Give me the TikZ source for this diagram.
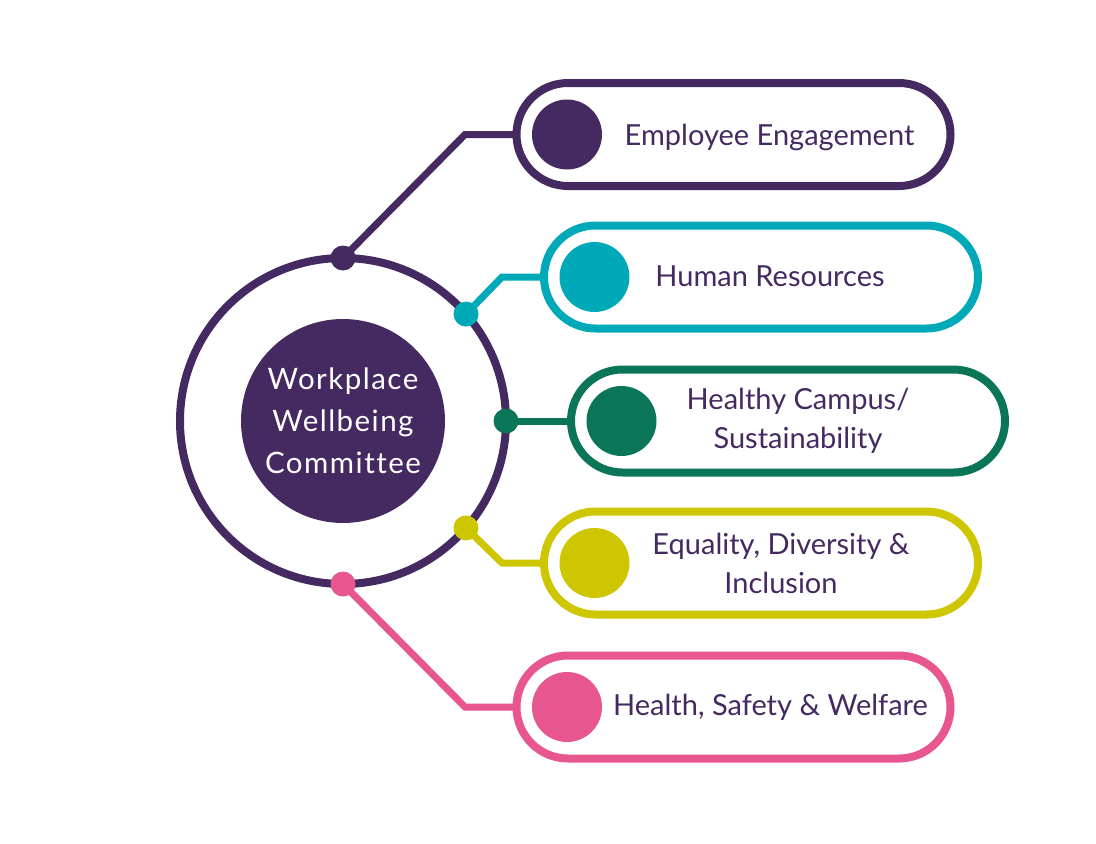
\documentclass[tikz,border=0pt]{standalone}
\usepackage{fontspec}
\setmainfont{Lato}
\newfontfamily\corefont[LetterSpace=5,Ligatures=NoCommon]{Lato}
\usetikzlibrary{shapes.misc,positioning,calc}
\definecolor{cpurple}{HTML}{452A62}
\definecolor{cteal}{HTML}{00A9B7}
\definecolor{cgreen}{HTML}{0A7557}
\definecolor{cyellow}{HTML}{CEC600}
\definecolor{cpink}{HTML}{E85690}
\tikzset{
  pill/.style={rounded rectangle, draw=#1, line width=8pt, minimum width=434pt, minimum height=103pt, inner sep=0pt, outer sep=0pt, fill=white},
  bigdot/.style={circle, fill=#1, minimum size=70pt, inner sep=0pt},
  ringdot/.style={circle, fill=#1, minimum size=25pt, inner sep=0pt},
  link/.style={line width=7pt, draw=#1},
  itemtext/.style={text=cpurple, font=\fontsize{29}{39}\selectfont, align=center}
}
\begin{document}
\begin{tikzpicture}[x=1pt, y=-1pt]
\useasboundingbox (0,0) rectangle (1096,844);

% centre
\node[circle, draw=cpurple, line width=8pt, minimum size=326pt, inner sep=0pt, outer sep=0pt] (ring) at (343,421) {};
\node[circle, fill=cpurple, minimum size=204pt, inner sep=0pt, text=white, font=\corefont\fontsize{29.5}{42}\selectfont, align=center] (core) at (ring.center) {Workplace\\Wellbeing\\Committee};

% pills
\node[pill=cpurple] (p1) at (733.5,134.5) {};
\node[pill=cteal]   (p2) at (761,277) {};
\node[pill=cgreen]  (p3) at (788,421) {};
\node[pill=cyellow] (p4) at (761,563) {};
\node[pill=cpink]   (p5) at (733.5,707) {};

% dots on the ring
\node[ringdot=cpurple] (d1) at (ring.90) {};
\node[ringdot=cteal]   (d2) at (ring.41) {};
\node[ringdot=cgreen]  (d3) at (ring.0) {};
\node[ringdot=cyellow] (d4) at (ring.-41) {};
\node[ringdot=cpink]   (d5) at (ring.-90) {};

\coordinate (k1) at (465,134.5);
\coordinate (k2) at (502,277);
\coordinate (k4) at (502,563);
\coordinate (k5) at (465,707);

\draw[link=cpurple] (d1.center) -- (k1) -- (p1.west);
\draw[link=cteal]   (d2.center) -- (k2) -- (p2.west);
\draw[link=cgreen]  (d3.center) -- (p3.west);
\draw[link=cyellow] (d4.center) -- (k4) -- (p4.west);
\draw[link=cpink]   (d5.center) -- (k5) -- (p5.west);

% big dots and labels
\node[bigdot=cpurple] (b1) at ($(p1.west)+(50.5,0)$) {};
\node[bigdot=cteal]   (b2) at ($(p2.west)+(50.5,0)$) {};
\node[bigdot=cgreen]  (b3) at ($(p3.west)+(50.5,0)$) {};
\node[bigdot=cyellow] (b4) at ($(p4.west)+(50.5,0)$) {};
\node[bigdot=cpink]   (b5) at ($(p5.west)+(50.5,0)$) {};

\node[itemtext] (t1) at ($(p1.center)+(36,3)$) {Employee Engagement};
\node[itemtext] (t2) at ($(p2.center)+(9,-1)$) {Human Resources};
\node[itemtext] (t3) at ($(p3.center)+(10,0)$) {Healthy Campus/\\Sustainability};
\node[itemtext] (t4) at ($(p4.center)+(20,0)$) {Equality, Diversity \&\\Inclusion};
\node[itemtext] (t5) at ($(p5.center)+(37,0)$) {Health, Safety \& Welfare};
\end{tikzpicture}
\end{document}
